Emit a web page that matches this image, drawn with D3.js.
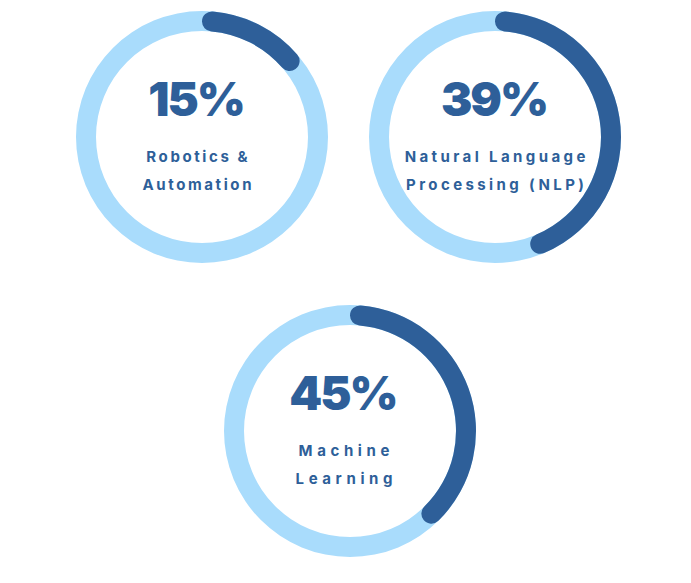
<!DOCTYPE html>
<html>
<head>
<meta charset="utf-8">
<script src="https://cdn.jsdelivr.net/npm/d3@7"></script>
<style>
  html, body { margin: 0; padding: 0; background: #ffffff; }
  svg { display: block; }
</style>
</head>
<body>
<svg id="chart" width="691" height="583"></svg>
<script>
// ---- data ----
const categories = ["Robotics & Automation", "Natural Language Processing (NLP)", "Machine Learning"];
const percentLabels = [15, 39, 45];          // numbers printed in the centre
const arcValues = [15, 45, 39];              // share of the ring filled, as drawn
const labelLines = [["Robotics &", "Automation"], ["Natural Language", "Processing (NLP)"], ["Machine", "Learning"]];

// ---- layout ----
const centers = [[202, 137], [495, 137], [350, 431]];
const textShift = [-5, 0, -6];
const letterSpacing = [2.6, 3.4, 4.6];
const outerR = 126, thickness = 20;
const trackColor = "#a9dcfc", fillColor = "#2e5f99", textColor = "#2e5f99";

const svg = d3.select("#chart");
const angle = d3.scaleLinear().domain([0, 100]).range([0, 2 * Math.PI]);
const trackArc = d3.arc().innerRadius(outerR - thickness).outerRadius(outerR);
const valueArc = d3.arc().innerRadius(outerR - thickness).outerRadius(outerR).cornerRadius(thickness / 2);

arcValues.forEach((v, i) => {
  const g = svg.append("g").attr("transform", `translate(${centers[i][0]},${centers[i][1]})`);
  g.append("path")
    .attr("d", trackArc({startAngle: 0, endAngle: 2 * Math.PI}))
    .attr("fill", trackColor);
  g.append("path")
    .attr("d", valueArc({startAngle: angle(0), endAngle: angle(v)}))
    .attr("fill", fillColor);

  g.append("text")
    .attr("x", textShift[i] - 1).attr("y", -21)
    .attr("text-anchor", "middle")
    .attr("font-family", "Inter, Lato, sans-serif")
    .attr("font-weight", 900)
    .attr("font-size", 47)
    .attr("letter-spacing", -2)
    .attr("fill", textColor)
    .text(percentLabels[i] + "%");

  const ls = letterSpacing[i];
  labelLines[i].forEach((line, j) => {
    g.append("text")
      .attr("x", textShift[i] + ls / 2).attr("y", 25 + j * 28)
      .attr("text-anchor", "middle")
      .attr("font-family", "Inter, Lato, sans-serif")
      .attr("font-weight", 700)
      .attr("font-size", 15)
      .attr("letter-spacing", ls)
      .attr("fill", textColor)
      .text(line);
  });
});
</script>
</body>
</html>
